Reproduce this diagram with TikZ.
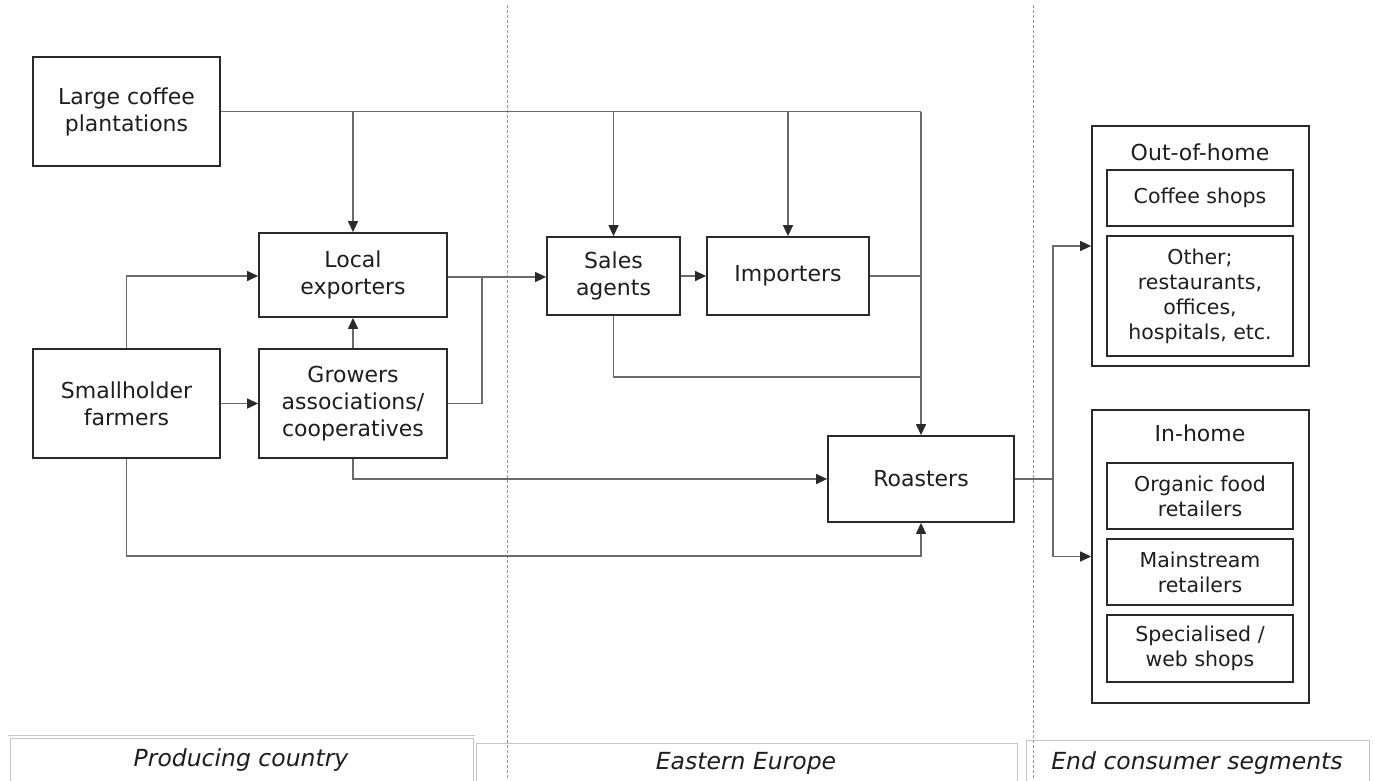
\documentclass[tikz,border=0pt]{standalone}
\usepackage{fontspec}
\setmainfont{DejaVu Sans}
\usetikzlibrary{arrows.meta}
\definecolor{boxc}{HTML}{2A2A2A}
\definecolor{linec}{HTML}{6A6A6A}
\definecolor{txtc}{HTML}{1E1E1E}
\begin{document}
\begin{tikzpicture}[x=1pt,y=-1pt,
  box/.style={draw=boxc, line width=1.8pt, align=center, inner sep=0pt, text=txtc,
    font=\fontsize{22}{27}\selectfont},
  ibox/.style={draw=boxc, line width=1.8pt, align=center, inner sep=0pt, text=txtc,
    font=\fontsize{20.5}{25}\selectfont, minimum width=186pt},
  conn/.style={draw=linec, line width=1.3pt},
  arr/.style={conn, -{Triangle[length=11pt,width=10pt,color=boxc]}},
  divider/.style={draw=gray!85, line width=0.9pt, dash pattern=on 3pt off 2pt},
  lab/.style={text=txtc, font=\fontsize{23.5}{28}\selectfont\itshape},
  labbox/.style={draw=gray!45, line width=1pt}
]
\useasboundingbox (0,0) rectangle (1375,780);
\fill[white] (0,0) rectangle (1375,780);
\begin{scope}
\clip (0,0) rectangle (1375,780);
% dividers
\draw[divider] (507,5) -- (507,780);
\draw[divider] (1033,5) -- (1033,780);
% bottom label boxes
\draw[labbox] (8,735) -- (475,735);
\draw[labbox] (10,738) rectangle (473,790);
\draw[labbox] (476,743) rectangle (1017,790);
\draw[labbox] (1026,740) rectangle (1369,790);
\end{scope}
\node[lab] (lpc) at (241,760) {Producing country};
\node[lab] (lee) at (746,763) {Eastern Europe};
\node[lab] (lec) at (1197,763) {End consumer segments};

% main nodes
\node[box, minimum width=187pt, minimum height=109pt] (large) at (126.5,111.5) {Large coffee\\plantations};
\node[box, minimum width=188pt, minimum height=84pt] (local) at (353,275) {Local\\exporters};
\node[box, minimum width=187pt, minimum height=109pt] (small) at (126.5,403.5) {Smallholder\\farmers};
\node[box, minimum width=188pt, minimum height=109pt] (grow) at (353,403.5) {Growers\\associations/\\cooperatives};
\node[box, minimum width=133pt, minimum height=78pt] (sales) at (613.5,276) {Sales\\agents};
\node[box, minimum width=162pt, minimum height=78pt] (imp) at (788,276) {Importers};
\node[box, minimum width=186pt, minimum height=86pt] (roast) at (921,479) {Roasters};

% consumer segments
\node[box, minimum width=217pt, minimum height=240pt] (out) at (1200.5,246) {};
\node[text=txtc, font=\fontsize{22}{27}\selectfont] (outl) at (1200,152) {Out-of-home};
\node[ibox, minimum height=56pt] (coffee) at (1200,198) {Coffee shops};
\node[ibox, minimum height=120pt] (other) at (1200,296) {Other;\\restaurants,\\offices,\\hospitals, etc.};
\node[box, minimum width=217pt, minimum height=293pt] (inhome) at (1200.5,556.5) {};
\node[text=txtc, font=\fontsize{22}{27}\selectfont] (inl) at (1200,433) {In-home};
\node[ibox, minimum height=66pt] (organic) at (1200,496) {Organic food\\retailers};
\node[ibox, minimum height=66pt] (mainr) at (1200,572) {Mainstream\\retailers};
\node[ibox, minimum height=67pt] (spec) at (1200,648.5) {Specialised /\\web shops};

% coordinates
\coordinate (tr) at (921,111.5);
\coordinate (j1) at (482,277);
\coordinate (j2) at (1053,479);

% connectors from large plantations
\draw[conn] (large.east) -- (tr);
\draw[arr] (tr) -- (roast.north);
\draw[arr] (local.north |- large.east) -- (local.north);
\draw[arr] (sales.north |- large.east) -- (sales.north);
\draw[arr] (imp.north |- large.east) -- (imp.north);

% smallholder
\draw[arr] (small.north) |- (local.west |- 0,276);
\draw[arr] (small.east) -- (grow.west);
\draw[arr] (small.south) |- (921,556) -- (roast.south);

% growers
\draw[arr] (grow.north) -- (local.south);
\draw[conn] (grow.east) -| (j1);
\draw[arr] (grow.south) |- (roast.west);

% exporters -> sales -> importers
\draw[arr] (local.east |- j1) -- (sales.west |- j1);
\draw[arr] (sales.east) -- (imp.west);
\draw[conn] (imp.east) -- (imp.east -| tr);
\draw[conn] (sales.south) |- (921,377);

% roasters -> consumers
\draw[conn] (roast.east) -- (j2);
\draw[arr] (j2) |- (out.west);
\draw[arr] (j2) |- (inhome.west);
\end{tikzpicture}
\end{document}
